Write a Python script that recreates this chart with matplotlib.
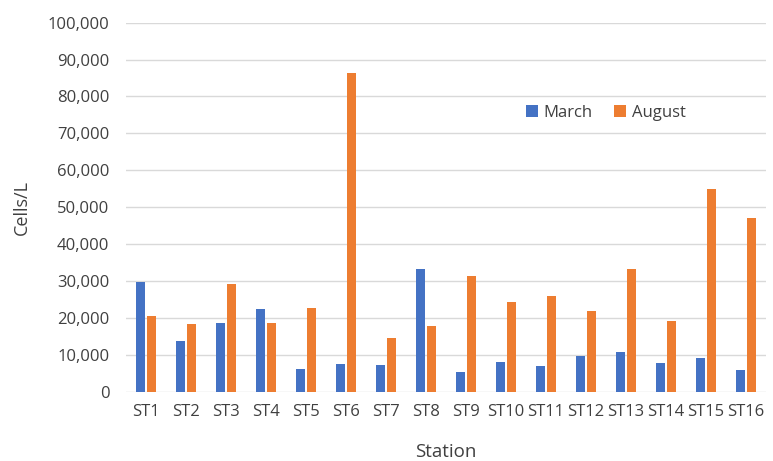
import numpy as np
import matplotlib.pyplot as plt
from matplotlib.ticker import FuncFormatter

stations = ['ST1', 'ST2', 'ST3', 'ST4', 'ST5', 'ST6', 'ST7', 'ST8',
            'ST9', 'ST10', 'ST11', 'ST12', 'ST13', 'ST14', 'ST15', 'ST16']
march = [29700, 13700, 18600, 22400, 6100, 7500, 7200, 33200,
         5400, 8000, 7000, 9600, 10800, 7800, 9100, 5800]
august = [20600, 18300, 29200, 18600, 22700, 86300, 14500, 17700,
          31400, 24200, 25900, 21900, 33200, 19200, 55000, 47000]

plt.rcParams["font.family"] = "Open Sans"

fig = plt.figure(figsize=(7.73, 4.61), dpi=100)
ax = fig.add_axes([0.163, 0.150, 0.828, 0.801])

x = np.arange(len(stations))
w = 0.23
ax.bar(x - w / 2 - 0.02, march, width=w, color='#4472C4', label='March', zorder=3)
ax.bar(x + w / 2 + 0.02, august, width=w, color='#ED7D31', label='August', zorder=3)

ax.set_xlim(-0.5, len(stations) - 0.5)
ax.set_ylim(0, 100000)
ax.set_yticks(np.arange(0, 100001, 10000))
ax.yaxis.set_major_formatter(FuncFormatter(lambda v, p: f'{v:,.0f}'))
ax.set_xticks(x)
ax.set_xticklabels(stations)

ax.grid(axis='y', color='#d9d9d9', lw=1, zorder=0)
for s in ax.spines.values():
    s.set_visible(False)
ax.tick_params(axis='y', length=0, labelsize=12, colors='#404040', pad=12)
ax.tick_params(axis='x', length=0, labelsize=12, colors='#404040', pad=9)

ax.set_xlabel('Station', fontsize=13.5, color='#404040', va='center')
ax.set_ylabel('Cells/L', fontsize=13, color='#404040', va='center')
ax.xaxis.set_label_coords(0.5, -0.163)
ax.yaxis.set_label_coords(-0.163, 0.5)

ax.legend(loc='center', bbox_to_anchor=(0.75, 0.755), ncol=2, frameon=False,
          handlelength=0.7, handleheight=0.7, handletextpad=0.35,
          columnspacing=1.3, fontsize=12, labelcolor='#404040')

fig.savefig('out.png', dpi=100)
